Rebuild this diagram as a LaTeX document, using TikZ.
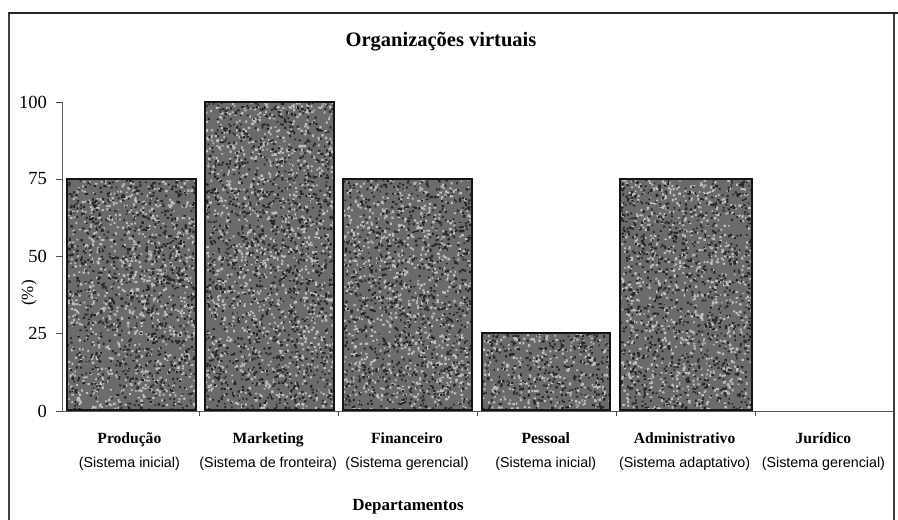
\documentclass[tikz,border=0pt]{standalone}
\usepackage{fontspec}
\setmainfont{Liberation Serif}
\setsansfont{Liberation Sans}
\begin{document}
% random grain laid over a bar: #1,#2 upper left corner, #3,#4 lower right corner
\newcommand\grainbar[4]{%
  \pgfmathtruncatemacro\ndots{(#3-#1)/30*(#4-#2)}%
  \fill[grainlight] \foreach \k in {1,...,\ndots}{
    ({#1+rnd*(#3-#1)},{#2+rnd*(#4-#2)}) rectangle ++({1.4+1.2*rnd},{1.4+1.2*rnd})};
  \fill[graindark] \foreach \k in {1,...,\ndots}{
    ({#1+rnd*(#3-#1)},{#2+rnd*(#4-#2)}) rectangle ++({1.4+1.1*rnd},{1.4+1.1*rnd})};
}
\begin{tikzpicture}[x=1pt,y=-1pt,
  frameline/.style={line width=1.1pt, black!75},
  topline/.style={line width=1.8pt, black!85},
  axisline/.style={line width=0.7pt, black!65},
  axtick/.style={line width=0.7pt, black!70},
  barbase/.style={fill=black!58},
  baredge/.style={draw=black!92, line width=1.7pt},
  grainlight/.style={fill=black!25},
  graindark/.style={fill=black!85},
  ylab/.style={font=\fontsize{18.5}{20}\selectfont, anchor=east, inner sep=0pt},
  catname/.style={font=\fontsize{15.6}{17}\selectfont\bfseries, anchor=base, inner sep=0pt},
  catsub/.style={font=\sffamily\fontsize{14.3}{16}\selectfont, anchor=base, inner sep=0pt},
  titletext/.style={font=\fontsize{20.5}{22}\selectfont\bfseries, anchor=base, inner sep=0pt},
]
\useasboundingbox[fill=white] (0,0) rectangle (898,520);
\pgfmathsetseed{4217}

% outer frame of the chart
\draw[frameline] (9,520) -- (9,13);
\draw[frameline] (894,13) -- (894,520);
\draw[topline] (8,13) -- (898,13);

% title
\node[titletext] (title) at (441,46) {Organizações virtuais};

% bars: left / right / top, all standing on the base line y=410
\foreach \xl/\xr/\yt in {67/196/179, 205/334/102, 343/472/179, 482/610/333, 620/752/179}{
  \fill[barbase] (\xl,\yt) rectangle (\xr,410);
  \begin{scope}
    \clip (\xl,\yt) rectangle (\xr,410);
    \grainbar{\xl}{\yt}{\xr}{410}
  \end{scope}
  \draw[baredge] (\xl,\yt) rectangle (\xr,410);
}

% value axis with ticks
\coordinate (ytop) at (62,102);
\coordinate (orig) at (62,411);
\coordinate (xend) at (894,411);
\draw[axisline] (ytop) -- (orig);
\draw[axisline] (orig) -- (xend);
\foreach \v/\yy in {100/102, 75/179, 50/256, 25/333, 0/411}{
  \draw[axtick] (56,\yy) -- (62,\yy);
  \node[ylab] (yl\v) at (47,\yy) {\v};
}
\node[font=\fontsize{17}{19}\selectfont, rotate=90, inner sep=0pt] (unit) at (29,293) {(\%)};

% category boundary ticks on the base line
\foreach \xx in {199,338,477,616,755}{
  \draw[axtick] (\xx,411) -- (\xx,416);
}

% category names and their system types
\foreach \i/\nm/\sb in {0/Produção/Sistema inicial, 1/Marketing/Sistema de fronteira,
  2/Financeiro/Sistema gerencial, 3/Pessoal/Sistema inicial,
  4/Administrativo/Sistema adaptativo, 5/Jurídico/Sistema gerencial}{
  \pgfmathsetmacro\cx{60+138.8*(\i+0.5)}
  \node[catname] (cat\i) at (\cx,443) {\nm};
  \node[catsub] (sub\i) at (\cx,467) {(\sb)};
}

% category axis title
\node[font=\fontsize{17}{19}\selectfont\bfseries, anchor=base, inner sep=0pt] (dept) at (408,510) {Departamentos};
\end{tikzpicture}
\end{document}
